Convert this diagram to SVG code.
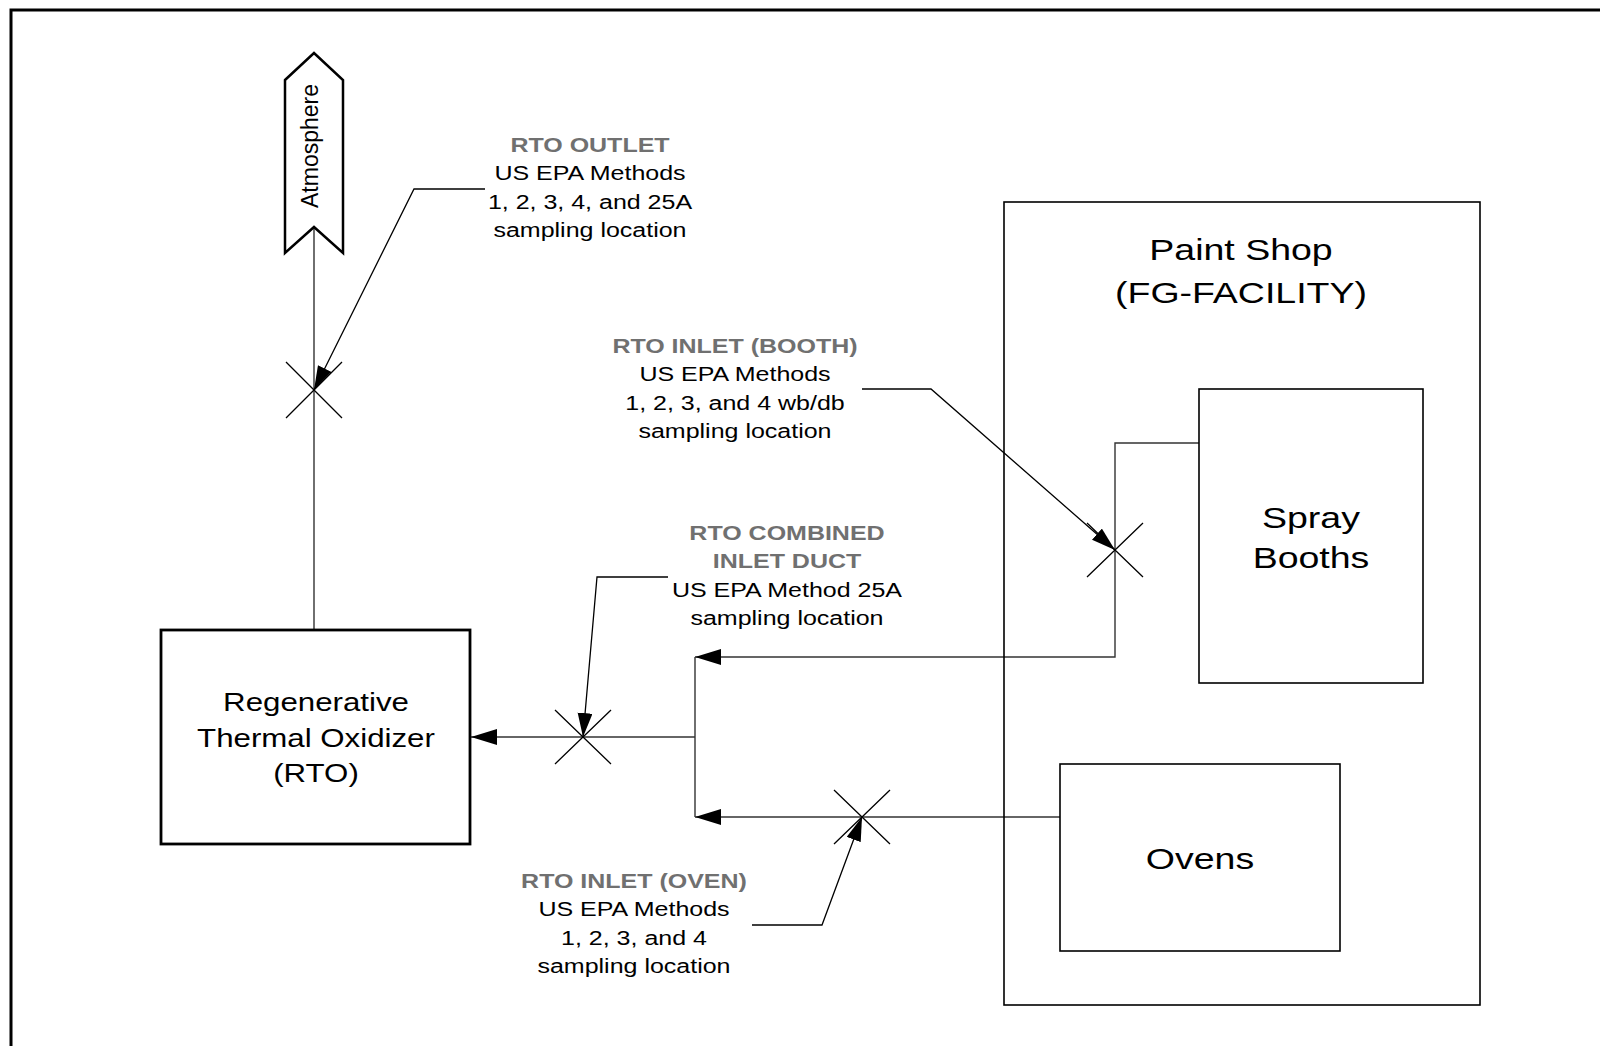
<svg xmlns="http://www.w3.org/2000/svg" width="1600" height="1046" viewBox="0 0 1600 1046">
<style>
text{font-family:"Liberation Sans",Arial,sans-serif;fill:#000}
.sm{font-size:20px;text-anchor:middle}
.ttl{font-size:20px;font-weight:bold;fill:#707070;text-anchor:middle}
.big{font-size:25px;text-anchor:middle}
.lg{font-size:30px;text-anchor:middle}
.box{fill:#fff;stroke:#000;stroke-width:1.6}
.conn{fill:none;stroke:#333;stroke-width:1.4}
.lead{fill:none;stroke:#000;stroke-width:1.3}
.x{stroke:#000;stroke-width:1.3}
</style>
<defs>
<marker id="arr" markerUnits="userSpaceOnUse" markerWidth="28" markerHeight="18" refX="26" refY="8" orient="auto">
<path d="M0,0 L26,8 L0,16 z" fill="#000"/>
</marker>
<marker id="lar" markerUnits="userSpaceOnUse" markerWidth="26" markerHeight="16" refX="24" refY="7.5" orient="auto">
<path d="M0,0 L24,7.5 L0,15 z" fill="#000"/>
</marker>
</defs>
<rect width="1600" height="1046" fill="#fff"/>
<path d="M11 1046 V10 H1600" fill="none" stroke="#000" stroke-width="3"/>

<g id="connectors">
<path class="conn" d="M314 228 V630"/>
<path class="conn" d="M1199 443 H1115 V657 H695" marker-end="url(#arr)"/>
<path class="conn" d="M1060 817 H695" marker-end="url(#arr)"/>
<path class="conn" d="M695 657 V817"/>
<path class="conn" d="M695 737 H471" marker-end="url(#arr)"/>
<path class="lead" d="M485 189 H414 L314 390" marker-end="url(#lar)"/>
<path class="lead" d="M862 389 H931 L1115 550" marker-end="url(#lar)"/>
<path class="lead" d="M668 577 H597 L583 737" marker-end="url(#lar)"/>
<path class="lead" d="M752 925 H822 L862 817" marker-end="url(#lar)"/>
</g>

<g id="sample-points">
<path class="x" d="M286 362 L342 418 M342 362 L286 418"/>
<path class="x" d="M1087 523 L1143 577 M1143 523 L1087 577"/>
<path class="x" d="M555 710 L611 764 M611 710 L555 764"/>
<path class="x" d="M834 790 L890 844 M890 790 L834 844"/>
</g>

<g id="atmosphere">
<path d="M285 80 L314 53 L343 80 V253 L314 227 L285 253 Z" fill="#fff" stroke="#000" stroke-width="2.5" stroke-linejoin="miter"/>
<text transform="translate(318,146) rotate(-90)" x="0" y="0" style="font-size:23px;text-anchor:middle">Atmosphere</text>
</g>

<g id="rto">
<rect x="161" y="630" width="309" height="214" fill="#fff" stroke="#000" stroke-width="2.8"/>
<g transform="matrix(1.25,0,0,1,-79,0)">
<text class="big" x="316" y="711">Regenerative</text>
<text class="big" x="316" y="747">Thermal Oxidizer</text>
<text class="big" x="316" y="782">(RTO)</text>
</g>
</g>

<g id="paint-shop">
<rect class="box" x="1004" y="202" width="476" height="803" fill="none" style="fill:none"/>
<g transform="matrix(1.25,0,0,1,-310.25,0)">
<text class="lg" x="1241" y="260">Paint Shop</text>
<text class="lg" x="1241" y="303">(FG-FACILITY)</text>
</g>
</g>

<g id="spray-booths">
<rect class="box" x="1199" y="389" width="224" height="294"/>
<g transform="matrix(1.25,0,0,1,-327.75,0)">
<text class="lg" x="1311" y="528">Spray</text>
<text class="lg" x="1311" y="568">Booths</text>
</g>
</g>

<g id="ovens">
<rect class="box" x="1060" y="764" width="280" height="187"/>
<g transform="matrix(1.25,0,0,1,-300,0)">
<text class="lg" x="1200" y="869">Ovens</text>
</g>
</g>

<g id="label-outlet" transform="matrix(1.25,0,0,1,-147.5,0)">
<text class="ttl" x="590" y="152">RTO OUTLET</text>
<text class="sm" x="590" y="180.5">US EPA Methods</text>
<text class="sm" x="590" y="209">1, 2, 3, 4, and 25A</text>
<text class="sm" x="590" y="237.5">sampling location</text>
</g>

<g id="label-booth" transform="matrix(1.25,0,0,1,-183.75,0)">
<text class="ttl" x="735" y="353">RTO INLET (BOOTH)</text>
<text class="sm" x="735" y="381.5">US EPA Methods</text>
<text class="sm" x="735" y="410">1, 2, 3, and 4 wb/db</text>
<text class="sm" x="735" y="438.5">sampling location</text>
</g>

<g id="label-combined" transform="matrix(1.25,0,0,1,-196.75,0)">
<text class="ttl" x="787" y="540">RTO COMBINED</text>
<text class="ttl" x="787" y="568.5">INLET DUCT</text>
<text class="sm" x="787" y="597">US EPA Method 25A</text>
<text class="sm" x="787" y="625.5">sampling location</text>
</g>

<g id="label-oven" transform="matrix(1.25,0,0,1,-158.5,0)">
<text class="ttl" x="634" y="888">RTO INLET (OVEN)</text>
<text class="sm" x="634" y="916.5">US EPA Methods</text>
<text class="sm" x="634" y="945">1, 2, 3, and 4</text>
<text class="sm" x="634" y="973.5">sampling location</text>
</g>
</svg>
